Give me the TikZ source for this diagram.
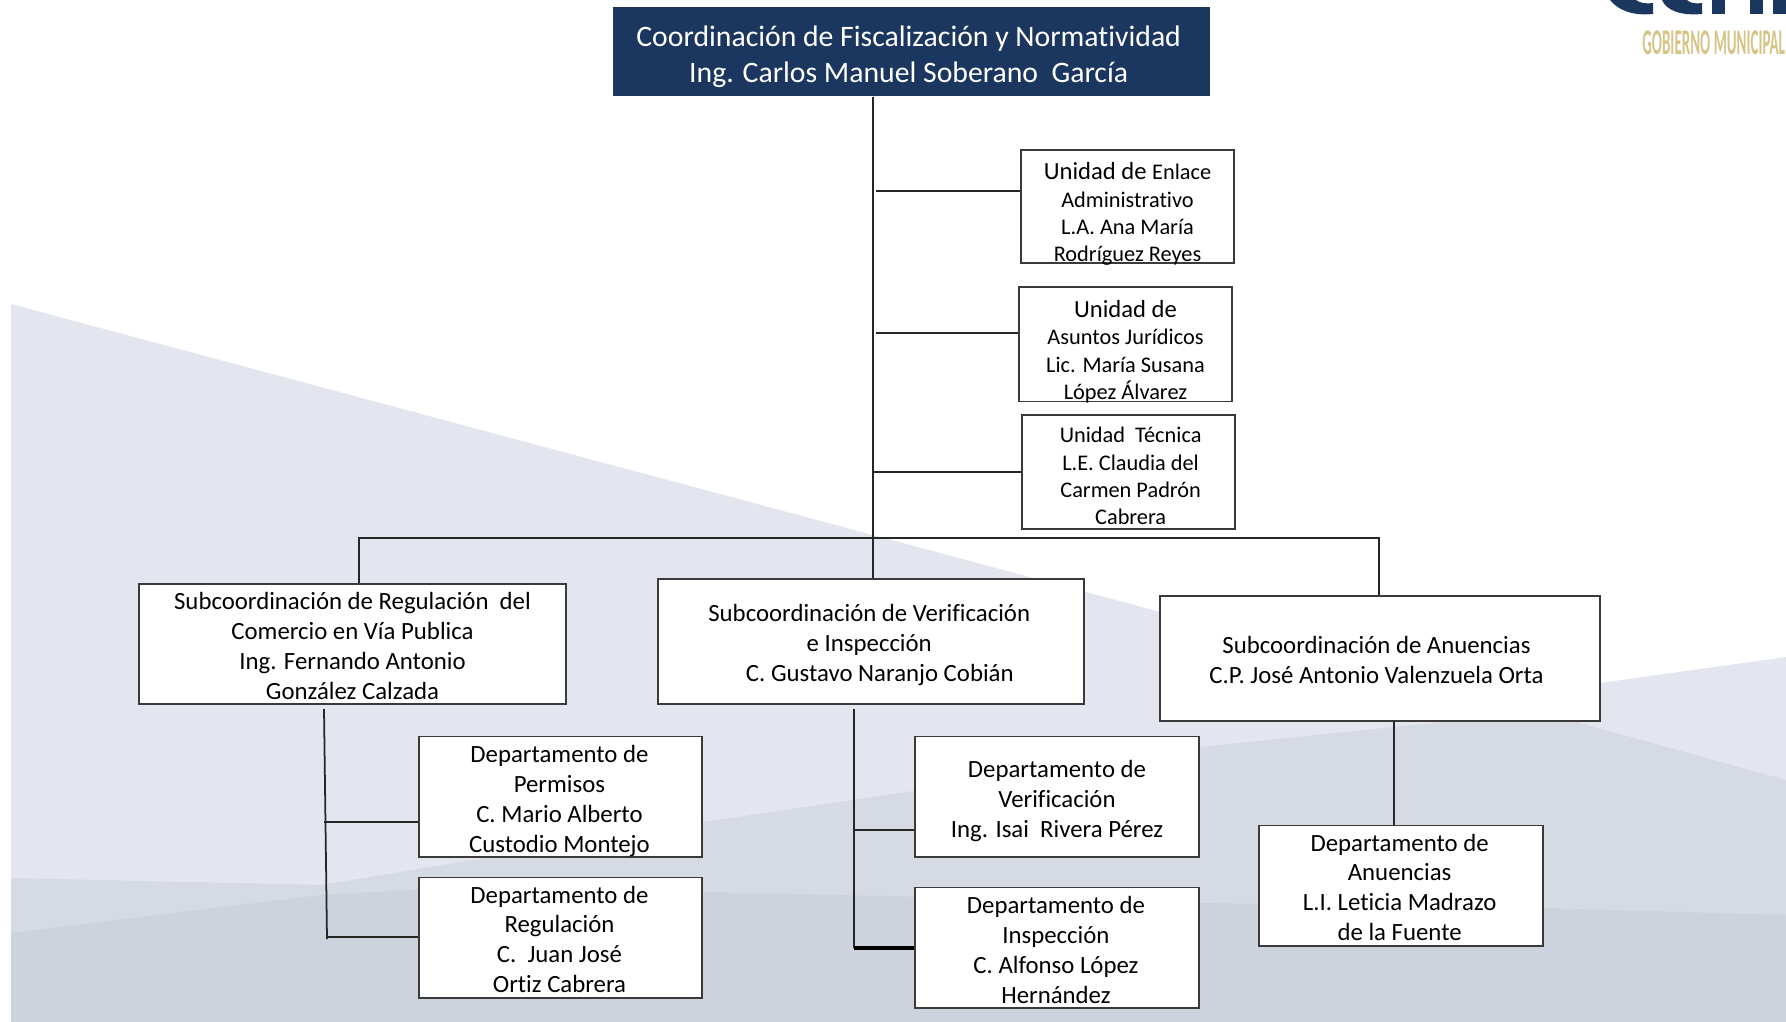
\documentclass[tikz,border=0pt]{standalone}
\usepackage{fontspec}
\setmainfont{Carlito}[Ligatures=NoCommon]
\usetikzlibrary{calc}
\definecolor{navybox}{HTML}{1B375F}
\definecolor{logogold}{HTML}{D6C386}
\definecolor{bandA}{HTML}{E3E6EE}
\definecolor{bandB}{HTML}{D5DAE3}
\definecolor{bandC}{HTML}{CDD3DD}
\definecolor{inkbox}{HTML}{3A3A3A}
\newcommand{\boxlines}[2]{\raisebox{#1}[0pt][0pt]{\begin{tabular}{@{}c@{}}#2\end{tabular}}}
\tikzset{
	orgbox/.style={draw=inkbox, line width=0.55pt, fill=white, inner sep=0pt, text=black},
	subbox/.style={orgbox, font=\fontsize{7.05}{8.5}\selectfont},
	depbox/.style={orgbox, minimum width=2.83cm, minimum height=1.20cm, font=\fontsize{7.05}{8.5}\selectfont},
	uniboxa/.style={orgbox, minimum width=2.12cm, font=\fontsize{6.35}{7.8}\selectfont},
	link/.style={line width=0.5pt, color=black!85}
}
\begin{document}
\begin{tikzpicture}[x=0.01cm, y=-0.01cm]
		%%%%% START %%%%%
		\useasboundingbox (0, 0) rectangle (1786, 1022);
		
		\fill[bandA] (11, 304) -- (1485, 699) -- (1786, 657) -- (1786, 1022) -- (11, 1022) -- cycle;
		\fill[bandB] (11, 878) -- (321, 885) -- (703, 822) -- (900, 793) -- (1200, 747) -- (1540, 712) -- (1786, 780) -- (1786, 1022) -- (11, 1022) -- cycle;
		\fill[bandC] (11, 933) -- (321, 895) -- (500, 885) -- (703, 892) -- (1200, 903) -- (1540, 908) -- (1786, 915) -- (1786, 1022) -- (11, 1022) -- cycle;
		
		% logo
		\fill[navybox] (1610, 0) .. controls (1618, 10) and (1632, 16) .. (1653, 14) -- (1653, 3) .. controls (1645, 4) and (1640, 3) .. (1636, 0) -- cycle;
		\fill[navybox] (1662, 0) .. controls (1666, 10) and (1680, 16) .. (1702, 14) -- (1702, 3) .. controls (1694, 4) and (1690, 3) .. (1687, 0) -- cycle;
		\fill[navybox] (1712, 0) rectangle (1725, 14);
		\fill[navybox] (1750, 0) rectangle (1763, 14);
		\fill[navybox] (1773, 0) rectangle (1786, 14);
		\node[anchor=west, inner sep=0pt, text=logogold, font=\fontsize{10.3}{11}\selectfont\bfseries, xscale=0.415] (logotext) at (1642, 43) {GOBIERNO MUNICIPAL};
		
		\node[fill=navybox, text=white, inner sep=0pt, minimum width=5.97cm, minimum height=0.89cm, font=\fontsize{8.45}{10.2}\selectfont] (coord) at (911.5, 51.5) {\boxlines{-3.7pt}{Coordinación de Fiscalización y Normatividad\\Ing. Carlos Manuel Soberano~~García}\hspace*{1.6pt}};
		
		\node[uniboxa, minimum height=1.13cm] (enlace) at (1127.5, 206.5) {\boxlines{-4pt}{\fontsize{7}{7.8}\selectfont Unidad de \fontsize{6.35}{7.8}\selectfont Enlace\\Administrativo\\L.A. Ana María\\Rodríguez Reyes}};
		\node[uniboxa, minimum height=1.14cm] (juridicos) at (1125.5, 344.5) {\boxlines{-3.9pt}{\fontsize{7}{7.8}\selectfont Unidad de\\Asuntos Jurídicos\\Lic. María Susana\\López Álvarez}};
		\node[uniboxa, minimum height=1.14cm] (tecnica) at (1128.5, 472) {\hspace*{1.2pt}\boxlines{-3.3pt}{Unidad~~Técnica\\L.E. Claudia del\\Carmen Padrón\\Cabrera}};
		
		\node[subbox, minimum width=4.26cm, minimum height=1.20cm] (regcom) at (352.5, 644) {\boxlines{-3pt}{Subcoordinación de Regulación~~del\\Comercio en Vía Publica\\Ing. Fernando Antonio\\González Calzada}};
		\node[subbox, minimum width=4.25cm, minimum height=1.25cm] (verins) at (871, 641.5) {\boxlines{-3pt}{Subcoordinación de Verificación\\e Inspección\\\hspace*{6pt}C. Gustavo Naranjo Cobián}\hspace*{1pt}};
		\node[subbox, minimum width=4.39cm, minimum height=1.25cm] (anuen) at (1380, 658.5) {\boxlines{-2.9pt}{Subcoordinación de Anuencias\\C.P. José Antonio Valenzuela Orta}\hspace*{2pt}};
		
		\node[depbox] (permisos) at (560.5, 796.5) {\boxlines{-3.1pt}{Departamento de\\Permisos\\C. Mario Alberto\\Custodio Montejo}\hspace*{0.6pt}};
		\node[depbox] (regula) at (560.5, 937.5) {\boxlines{-3pt}{Departamento de\\Regulación\\C.~~Juan José\\Ortiz Cabrera}\hspace*{0.6pt}};
		\node[depbox] (verifica) at (1057, 796.5) {\boxlines{-3.2pt}{Departamento de\\Verificación\\Ing. Isai~~Rivera Pérez}};
		\node[depbox] (inspecc) at (1057, 947.5) {\boxlines{-3.2pt}{Departamento de\\Inspección\\C. Alfonso López\\Hernández}\hspace*{0.6pt}};
		\node[depbox] (depanu) at (1401, 885.5) {\boxlines{-3pt}{Departamento de\\Anuencias\\L.I. Leticia Madrazo\\de la Fuente}\hspace*{0.8pt}};
		
		\coordinate (trunk) at (873, 538);
		\coordinate (barleft) at (359, 538);
		\coordinate (barright) at (1379, 538);
		\coordinate (unia) at (876, 191);
		\coordinate (unib) at (876, 333);
		\coordinate (regdown) at (324, 709);
		\coordinate (regend) at (327, 939);
		\coordinate (regmid) at (324, 822);
		\coordinate (reglow) at (326, 937);
		\coordinate (verdown) at (854, 709);
		\coordinate (vermid) at (854, 830);
		\coordinate (verlow) at (854, 948);
		\coordinate (anudown) at (1394, 721);
		
		\draw[link] (coord.south -| trunk) -- (verins.north -| trunk);
		\draw[link] (barleft |- regcom.north) -- (barleft) -- (barright) -- (barright |- anuen.north);
		\draw[link] (unia) -- (unia -| enlace.west);
		\draw[link] (unib) -- (unib -| juridicos.west);
		\draw[link] (tecnica.west) -- (tecnica.west -| trunk);
		
		\draw[link] (regdown) -- (regend);
		\draw[link] (regmid) -- (regmid -| permisos.west);
		\draw[link] (reglow) -- (reglow -| regula.west);
		
		\draw[link] (verdown) -- (verlow);
		\draw[link] (vermid) -- (vermid -| verifica.west);
		\draw[line width=0.9pt, color=black] (verlow) -- (verlow -| inspecc.west);
		
		\draw[link] (anudown) -- (anudown |- depanu.north);
		%%%%% END %%%%%
	\end{tikzpicture}
\end{document}
